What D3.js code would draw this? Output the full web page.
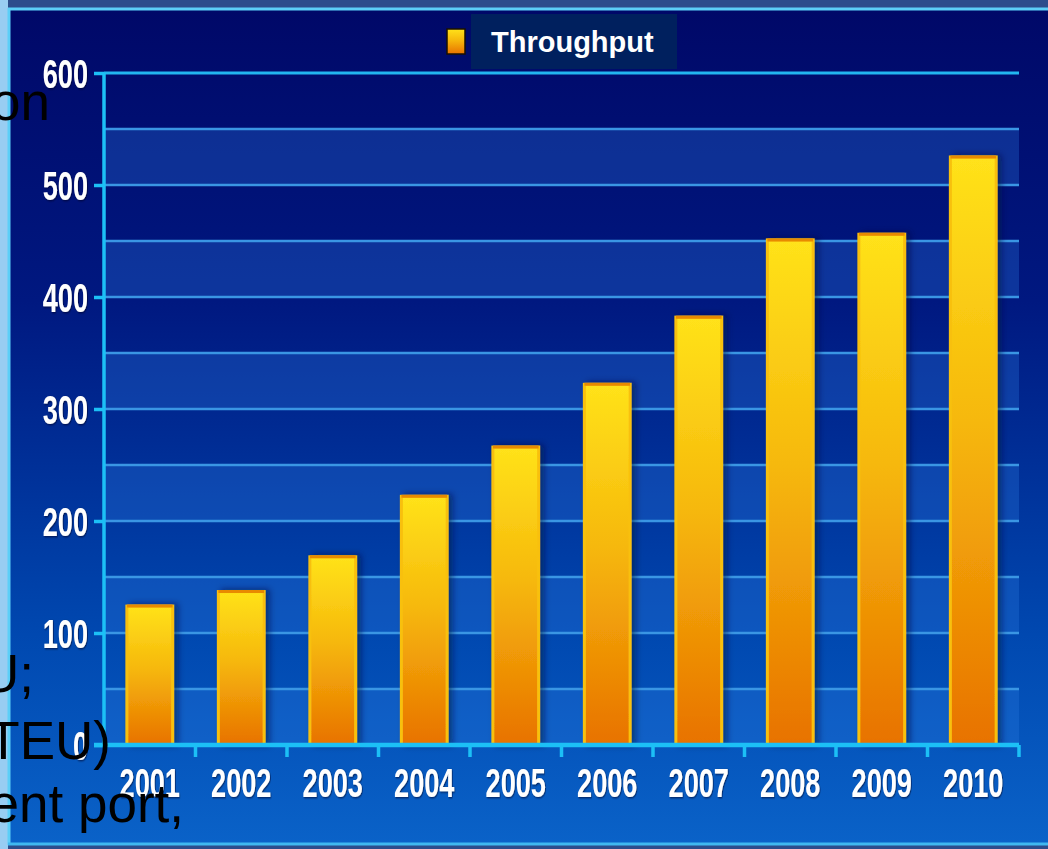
<!DOCTYPE html>
<html>
<head>
<meta charset="utf-8">
<script src="https://cdn.jsdelivr.net/npm/d3@7"></script>
<style>
  html, body { margin: 0; padding: 0; background: #2c4d8c; overflow: hidden; }
  svg { display: block; }
</style>
</head>
<body>
<svg id="chart" width="1048" height="849"></svg>
<script>
const years = ["2001","2002","2003","2004","2005","2006","2007","2008","2009","2010"];
const throughput = [124, 137, 168, 222, 266, 322, 382, 451, 456, 525];
const yTicks = [0, 100, 200, 300, 400, 500, 600];
const gridValues = [50, 100, 150, 200, 250, 300, 350, 400, 450, 500, 550, 600];
const seriesName = "Throughput";
const overlayLines = [
  { text: "on", y: 120, right: 50 },
  { text: "U;", y: 692, right: 34 },
  { text: "TEU)", y: 759, right: 111 },
  { text: "ent port,", y: 822, right: 184 }
];

(function () {
const W = 1048, H = 849;
const SX = 0.68; // horizontal condensing of axis labels
const svg = d3.select("#chart");
const defs = svg.append("defs");

const bg = defs.append("linearGradient").attr("id", "bg").attr("x1", 0).attr("y1", 0).attr("x2", 0).attr("y2", 1);
bg.append("stop").attr("offset", "0%").attr("stop-color", "#000868");
bg.append("stop").attr("offset", "35%").attr("stop-color", "#001880");
bg.append("stop").attr("offset", "75%").attr("stop-color", "#0048b0");
bg.append("stop").attr("offset", "100%").attr("stop-color", "#0a62c8");

const barG = defs.append("linearGradient").attr("id", "barG").attr("x1", 0).attr("y1", 0).attr("x2", 0).attr("y2", 1);
barG.append("stop").attr("offset", "0%").attr("stop-color", "#ffe21a");
barG.append("stop").attr("offset", "45%").attr("stop-color", "#f6b80c");
barG.append("stop").attr("offset", "100%").attr("stop-color", "#e87200");

const sh = defs.append("filter").attr("id", "shadow").attr("x", "-30%").attr("y", "-10%").attr("width", "160%").attr("height", "120%");
sh.append("feDropShadow").attr("dx", 4).attr("dy", -1).attr("stdDeviation", 3)
  .attr("flood-color", "#001040").attr("flood-opacity", 0.55);

const tsh = defs.append("filter").attr("id", "tshadow");
tsh.append("feDropShadow").attr("dx", 1).attr("dy", 1).attr("stdDeviation", 1)
  .attr("flood-color", "#000020").attr("flood-opacity", 0.7);

// outer frame
svg.append("rect").attr("x", 0).attr("y", 0).attr("width", W).attr("height", H).attr("fill", "#2c4d8c");
svg.append("rect").attr("x", 0).attr("y", 0).attr("width", 8).attr("height", H).attr("fill", "#98cdf2");
svg.append("rect").attr("x", 9).attr("y", 9).attr("width", W).attr("height", 834).attr("fill", "url(#bg)");
svg.append("line").attr("x1", 8).attr("x2", W).attr("y1", 9).attr("y2", 9).attr("stroke", "#5ccff8").attr("stroke-width", 3);
svg.append("line").attr("x1", 9).attr("x2", 9).attr("y1", 8).attr("y2", 845).attr("stroke", "#5ccff8").attr("stroke-width", 3);
svg.append("line").attr("x1", 8).attr("x2", W).attr("y1", 844).attr("y2", 844).attr("stroke", "#3fb8f0").attr("stroke-width", 3);

const pLeft = 104, pRight = 1019, pTop = 73, pBottom = 745;
const x = d3.scaleBand().domain(years).range([pLeft, pRight]).paddingInner(0.5).paddingOuter(0.25);
const y = d3.scaleLinear().domain([0, 600]).range([pBottom, pTop]);

// alternating bands
const bandStarts = d3.range(0, 600, 50);
svg.append("g").selectAll("rect").data(bandStarts).join("rect")
  .attr("x", pLeft).attr("width", pRight - pLeft)
  .attr("y", d => y(d + 50)).attr("height", d => y(d) - y(d + 50))
  .attr("fill", d => (d / 50) % 2 === 0 ? "#2a7ae0" : "none")
  .attr("fill-opacity", 0.3);

// gridlines
svg.append("g").selectAll("line").data(gridValues).join("line")
  .attr("x1", pLeft).attr("x2", pRight)
  .attr("y1", d => y(d)).attr("y2", d => y(d))
  .attr("stroke", d => d === 600 ? "#22b6f0" : "#3a96e4").attr("stroke-width", d => d === 600 ? 3 : 2.5);

// bars
svg.append("g").selectAll("rect").data(years).join("rect")
  .attr("x", d => x(d)).attr("width", x.bandwidth())
  .attr("y", (d, i) => y(throughput[i])).attr("height", (d, i) => y(0) - y(throughput[i]))
  .attr("fill", "url(#barG)").attr("stroke", "#f8c010").attr("stroke-width", 3)
  .attr("filter", "url(#shadow)");
svg.append("g").selectAll("line").data(years).join("line")
  .attr("x1", d => x(d)).attr("x2", d => x(d) + x.bandwidth())
  .attr("y1", (d, i) => y(throughput[i])).attr("y2", (d, i) => y(throughput[i]))
  .attr("stroke", "#e88a00").attr("stroke-width", 3);

const labelFont = "'Liberation Sans', Arial, sans-serif";

// y axis
const yAxis = svg.append("g").attr("transform", `translate(${pLeft},0)`)
  .call(d3.axisLeft(y).tickValues(yTicks).tickSize(10).tickFormat(d3.format("d")));
yAxis.select(".domain").attr("stroke", "#1cc0f6").attr("stroke-width", 3.5).attr("d", `M0,${pTop}V${pBottom}`);
yAxis.selectAll(".tick line").attr("stroke", "#1cc0f6").attr("stroke-width", 3.5);
yAxis.selectAll(".tick text")
  .attr("fill", "#ffffff").attr("stroke", "none")
  .attr("font-family", labelFont)
  .attr("font-weight", "bold").attr("font-size", 40)
  .attr("x", -16 / SX).attr("dy", "0.36em")
  .attr("transform", `scale(${SX},1)`)
  .attr("filter", "url(#tshadow)");

// x axis
const xAxis = svg.append("g").attr("transform", `translate(0,${pBottom})`)
  .call(d3.axisBottom(x).tickSize(0).tickPadding(0));
xAxis.select(".domain").attr("stroke", "#1cc0f6").attr("stroke-width", 4.5).attr("d", `M${pLeft - 10},0H${pRight}`);
xAxis.selectAll(".tick text")
  .attr("fill", "#ffffff")
  .attr("font-family", labelFont)
  .attr("font-weight", "bold").attr("font-size", 40)
  .attr("y", 52).attr("dy", 0)
  .attr("transform", `scale(${SX},1)`)
  .attr("filter", "url(#tshadow)");
const boundaries = years.map(d => x(d) + x.bandwidth() + (x.step() - x.bandwidth()) / 2);
xAxis.append("g").selectAll("line").data(boundaries).join("line")
  .attr("x1", d => d).attr("x2", d => d).attr("y1", 0).attr("y2", 12)
  .attr("stroke", "#1cc0f6").attr("stroke-width", 3.5);

// legend
const lg = svg.append("g");
lg.append("rect").attr("x", 471).attr("y", 14).attr("width", 206).attr("height", 55).attr("fill", "#00205e");
lg.append("rect").attr("x", 447).attr("y", 29).attr("width", 18).attr("height", 25)
  .attr("fill", "url(#barG)").attr("stroke", "#1a1000").attr("stroke-width", 1.5);
lg.append("text").attr("x", 491).attr("y", 52).text(seriesName)
  .attr("fill", "#ffffff").attr("font-family", labelFont)
  .attr("font-weight", "bold").attr("font-size", 29);

// overlaid slide text
svg.append("g").selectAll("text").data(overlayLines).join("text")
  .attr("x", d => d.right).attr("y", d => d.y).attr("text-anchor", "end")
  .attr("font-family", labelFont).attr("font-size", 53)
  .attr("fill", "#000000").text(d => d.text);
})();
</script>
</body>
</html>
